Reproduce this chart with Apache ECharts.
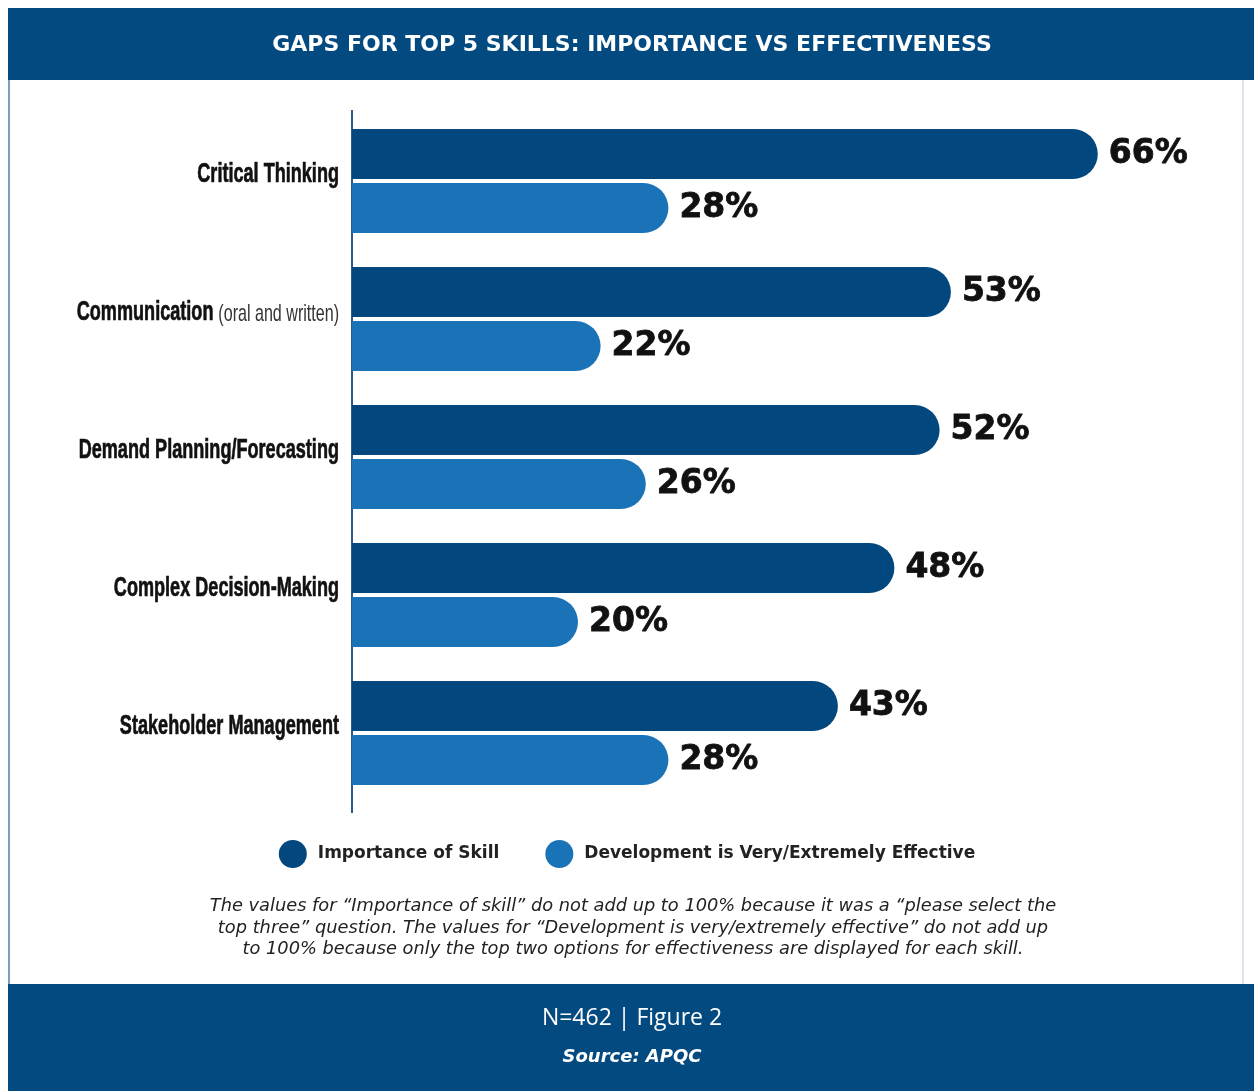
<!DOCTYPE html>
<html>
<head>
<meta charset="utf-8">
<script src="https://cdn.jsdelivr.net/npm/echarts@6/dist/echarts.min.js"></script>
<style>
html,body{margin:0;padding:0;background:#fff;}
#c{width:1254px;height:1091px;}
</style>
</head>
<body>
<div id="c"></div>
<script>
const categories = ['Critical Thinking', 'Communication', 'Demand Planning/Forecasting', 'Complex Decision-Making', 'Stakeholder Management'];
const categoryNotes = ['', '(oral and written)', '', '', ''];
const importance = [66, 53, 52, 48, 43];
const effectiveness = [28, 22, 26, 20, 28];
const seriesNames = ['Importance of Skill', 'Development is Very/Extremely Effective'];
const titleText = 'GAPS FOR TOP 5 SKILLS: IMPORTANCE VS EFFECTIVENESS';
const noteLines = [
  'The values for \u201cImportance of skill\u201d do not add up to 100% because it was a \u201cplease select the',
  'top three\u201d question. The values for \u201cDevelopment is very/extremely effective\u201d do not add up',
  'to 100% because only the top two options for effectiveness are displayed for each skill.'
];
const footerLine = 'N=462 | Figure 2';
const sourceLine = 'Source: APQC';

const DARK = '#02477d';
const LIGHT = '#1b73b7';
const BAND = '#034a80';
const WIDE = "'DejaVu Sans', sans-serif";

const chart = echarts.init(document.getElementById('c'));
const valueLabel = {
  show: true, position: 'right', distance: 11,
  formatter: '{c}%', color: '#111',
  textBorderColor: '#111', textBorderWidth: 0.8,
  fontFamily: WIDE, fontWeight: 'bold', fontSize: 33
};
chart.setOption({
  backgroundColor: '#fff',
  animation: false,
  grid: { left: 352, top: 112, width: 791, height: 690, outerBoundsMode: 'none', containLabel: false },
  xAxis: { type: 'value', min: 0, max: 70, show: false },
  yAxis: {
    type: 'category', data: categories, inverse: true,
    axisLine: { show: false },
    axisTick: { show: false },
    axisLabel: { show: false }
  },
  legend: {
    top: 835, left: 'center', itemWidth: 28, itemHeight: 28, itemGap: 46,
    icon: 'circle',
    textStyle: { fontFamily: WIDE, fontWeight: 'bold', fontSize: 17, color: '#222', padding: [0, 0, 0, 6] },
    data: seriesNames
  },
  series: [
    { name: seriesNames[0], type: 'bar', data: importance, barWidth: 50, barGap: '8%',
      itemStyle: { color: DARK, borderRadius: [0, 25, 25, 0] }, label: valueLabel },
    { name: seriesNames[1], type: 'bar', data: effectiveness, barWidth: 50, barGap: '8%',
      itemStyle: { color: LIGHT, borderRadius: [0, 25, 25, 0] }, label: valueLabel },
    {
      name: 'categoryLabels', type: 'custom', silent: true, clip: false,
      data: categories.map(function (c, i) { return [0, i]; }),
      renderItem: function (params, api) {
        const idx = api.value(1);
        const pt = api.coord([0, idx]);
        const note = categoryNotes[idx];
        const txt = note ? '{b|' + categories[idx] + '} {n|' + note + '}' : '{b|' + categories[idx] + '}';
        return {
          type: 'text', x: pt[0] - 13, y: pt[1] - 6, scaleX: 0.67,
          style: {
            text: txt, align: 'right', verticalAlign: 'middle',
            rich: {
              b: { fontFamily: "'Liberation Sans', Arial, sans-serif", fontWeight: 'bold', fontSize: 27, fill: '#111', stroke: '#111', lineWidth: 0.7 },
              n: { fontFamily: "'Liberation Sans', Arial, sans-serif", fontWeight: 'normal', fontSize: 24, fill: '#333', padding: [3, 0, 0, 4] }
            }
          }
        };
      }
    }
  ],
  graphic: [
    { type: 'rect', shape: { x: 8, y: 8, width: 1246, height: 72 }, style: { fill: BAND }, z: 0 },
    { type: 'rect', shape: { x: 8, y: 984, width: 1246, height: 107 }, style: { fill: BAND }, z: 0 },
    { type: 'line', shape: { x1: 9, y1: 80, x2: 9, y2: 984 }, style: { stroke: '#7d9bbd', lineWidth: 2 }, z: 0 },
    { type: 'line', shape: { x1: 1243, y1: 80, x2: 1243, y2: 984 }, style: { stroke: '#d5dde8', lineWidth: 1.5 }, z: 0 },
    { type: 'line', shape: { x1: 352, y1: 110, x2: 352, y2: 813 }, style: { stroke: '#2a5a8c', lineWidth: 2 }, z: 0 },
    { type: 'text', x: 632, y: 45, style: { text: titleText, fill: '#fff', font: "bold 22px 'DejaVu Sans', sans-serif", textAlign: 'center', textVerticalAlign: 'middle' }, z: 1 },
    { type: 'text', x: 633, y: 906, style: { text: noteLines[0], fill: '#222', font: "italic 17.8px 'DejaVu Sans', sans-serif", textAlign: 'center', textVerticalAlign: 'middle' }, z: 1 },
    { type: 'text', x: 633, y: 928, style: { text: noteLines[1], fill: '#222', font: "italic 17.8px 'DejaVu Sans', sans-serif", textAlign: 'center', textVerticalAlign: 'middle' }, z: 1 },
    { type: 'text', x: 633, y: 949, style: { text: noteLines[2], fill: '#222', font: "italic 17.8px 'DejaVu Sans', sans-serif", textAlign: 'center', textVerticalAlign: 'middle' }, z: 1 },
    { type: 'text', x: 632, y: 1018, style: { text: footerLine, fill: '#fff', font: "400 23px 'Open Sans', sans-serif", textAlign: 'center', textVerticalAlign: 'middle' }, z: 1 },
    { type: 'text', x: 632, y: 1057, style: { text: sourceLine, fill: '#fff', font: "italic bold 18px 'DejaVu Sans', sans-serif", textAlign: 'center', textVerticalAlign: 'middle' }, z: 1 }
  ]
});
</script>
</body>
</html>
